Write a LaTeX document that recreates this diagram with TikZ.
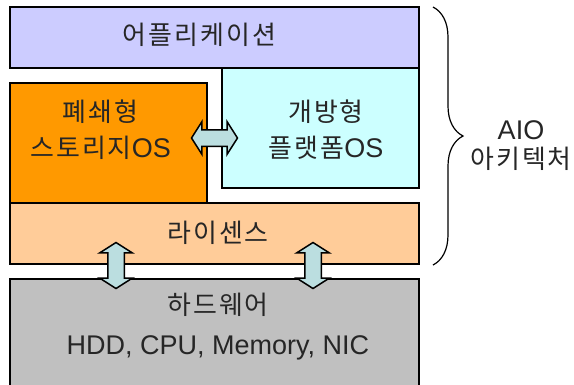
\documentclass[tikz,border=0pt]{standalone}
\usepackage{fontspec}
\setmainfont{Liberation Sans}
\newfontfamily\kr[Scale=0.96, LetterSpace=8]{Noto Sans CJK KR}
\usetikzlibrary{shapes.arrows,decorations.pathreplacing}
\definecolor{appcol}{HTML}{CCCCFF}
\definecolor{closedcol}{HTML}{FF9900}
\definecolor{opencol}{HTML}{CCFFFF}
\definecolor{liccol}{HTML}{FFCC99}
\definecolor{hwcol}{HTML}{C0C0C0}
\definecolor{arrowcol}{HTML}{BBDEE0}

\begin{document}
\begin{tikzpicture}[x=1pt, y=-1pt,
    box/.style={draw, line width=1.5pt, inner sep=0pt},
    txt/.style={text=black!85, align=center, font=\fontsize{27}{36}\selectfont},
    dblarrow/.style={double arrow, draw, line width=1.5pt, fill=arrowcol, inner sep=7.5pt,
      minimum height=46pt, minimum width=31pt, double arrow head extend=8pt,
      double arrow tip angle=115}]

    \clip (0, 0) rectangle (574, 384);

    \node[box, fill=appcol, minimum width=409pt, minimum height=61pt] (app) at (214.5, 37.5) {};
    \node[box, fill=closedcol, minimum width=197pt, minimum height=120pt] (closed) at (108.5, 143) {};
    \node[box, fill=opencol, minimum width=197pt, minimum height=120pt] (open) at (320.5, 128) {};
    \node[box, fill=liccol, minimum width=409pt, minimum height=61pt] (lic) at (214.5, 233.5) {};
    \node[box, fill=hwcol, minimum width=409pt, minimum height=130pt] (hw) at (214.5, 344) {};

    \node[txt] (appt) at (199.5, 35) {\kr 어플리케이션};
    \node[txt] (closedt) at (100.5, 130) {{\kr 폐쇄형}\\{\kr 스토리지}OS};
    \node[txt] (opent) at (326, 130) {{\kr 개방형}\\{\kr 플랫폼}OS};
    \node[txt] (lict) at (218, 232.5) {\kr 라이센스};
    \node[txt, font=\fontsize{27}{40}\selectfont] (hwt) at (218, 327) {{\kr 하드웨어}\\HDD, CPU, Memory, NIC};

    \node[dblarrow] (oa) at (214.5, 138) {};
    \node[dblarrow, shape border rotate=90] (la) at (116, 265.5) {};
    \node[dblarrow, shape border rotate=90] (ra) at (313, 265.5) {};

    \coordinate (bt) at (433, 7);
    \coordinate (bb) at (433, 265);
    \draw [decorate, decoration={brace, amplitude=30pt}, line width=1.2pt] (bt) -- (bb);
    \node[txt, font=\fontsize{27}{29}\selectfont] (aio) at (521, 146) {AIO\\{\kr 아키텍처}};

  \end{tikzpicture}
\end{document}
